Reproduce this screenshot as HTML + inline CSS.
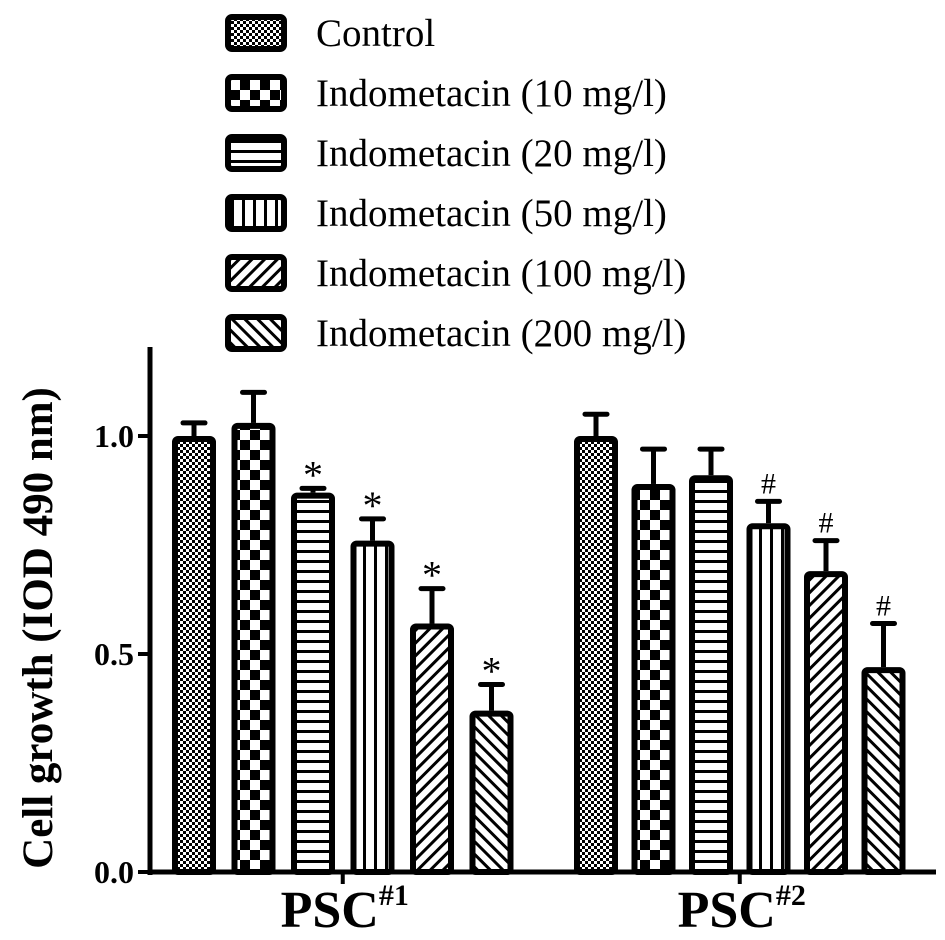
<!DOCTYPE html>
<html><head><meta charset="utf-8"><style>
html,body{margin:0;padding:0;background:#fff;}
svg{display:block;font-family:"Liberation Serif",serif;}
</style></head><body>
<svg id="chart" width="945" height="940" viewBox="0 0 945 940">
<defs>
<pattern id="p0" width="6" height="6" patternUnits="userSpaceOnUse"><rect width="6" height="6" fill="#fff"/><rect width="3" height="3" fill="#000"/><rect x="3" y="3" width="3" height="3" fill="#000"/></pattern>
<pattern id="p1" width="20" height="20" patternUnits="userSpaceOnUse"><rect width="20" height="20" fill="#fff"/><rect width="10" height="10" fill="#000"/><rect x="10" y="10" width="10" height="10" fill="#000"/></pattern>
<pattern id="p2" width="10" height="10" patternUnits="userSpaceOnUse"><rect width="10" height="10" fill="#fff"/><rect y="0" width="10" height="3" fill="#000"/></pattern>
<pattern id="p3" width="11" height="10" patternUnits="userSpaceOnUse"><rect width="11" height="10" fill="#fff"/><rect width="3" height="10" fill="#000"/></pattern>
<pattern id="p4" width="9" height="9" patternUnits="userSpaceOnUse" patternTransform="rotate(45)"><rect width="9" height="9" fill="#fff"/><rect width="3" height="9" fill="#000"/></pattern>
<pattern id="p5" width="9" height="9" patternUnits="userSpaceOnUse" patternTransform="rotate(-45)"><rect width="9" height="9" fill="#fff"/><rect width="3" height="9" fill="#000"/></pattern>
</defs>
<g id="legend"></g>
<g id="axes"></g>
<g id="bars"></g>
</svg>
<script>
const seriesNames = ["Control","Indometacin (10 mg/l)","Indometacin (20 mg/l)","Indometacin (50 mg/l)","Indometacin (100 mg/l)","Indometacin (200 mg/l)"];
const groups = ["PSC", "PSC"];
const groupSup = ["#1", "#2"];
const psc1Values = [1.0, 1.03, 0.87, 0.76, 0.57, 0.37];
const psc1Errors = [0.03, 0.07, 0.01, 0.05, 0.08, 0.06];
const psc1Marks = ["", "", "*", "*", "*", "*"];
const psc2Values = [1.0, 0.89, 0.91, 0.80, 0.69, 0.47];
const psc2Errors = [0.05, 0.08, 0.06, 0.05, 0.07, 0.10];
const psc2Marks = ["", "", "", "#", "#", "#"];
const yTicks = [0.0, 0.5, 1.0];

const NS = "http://www.w3.org/2000/svg";
function mk(tag, attrs, parent){const e=document.createElementNS(NS,tag);for(const k in attrs)e.setAttribute(k,attrs[k]);parent.appendChild(e);return e;}
const y0=872, yScale=436;
function yPos(v){return y0 - v*yScale;}
const groupStart=[172, 574], pitch=[59.5, 57.5], bw=44;
function xPos(g,i){return groupStart[g]+i*pitch[g];}

const axes=document.getElementById('axes');
const yl=mk('line',{x1:150,y1:347,x2:150,y2:875,stroke:'#000','stroke-width':5},axes);


const xl=mk('line',{x1:148,y1:872,x2:936,y2:872,stroke:'#000','stroke-width':5},axes);


yTicks.forEach(t=>{
  const tk=mk('line',{x1:138,y1:yPos(t),x2:150,y2:yPos(t),stroke:'#000','stroke-width':4},axes);
  
  
  const tl=mk('text',{x:134,y:yPos(t)+11,'text-anchor':'end','font-size':32,'font-weight':'bold'},axes);
  tl.textContent=t.toFixed(1);
  
  
});
const yt=mk('text',{x:0,y:0,'text-anchor':'middle','font-size':43,'font-weight':'bold',transform:'translate(52,628) rotate(-90)'},axes);
yt.textContent='Cell growth (IOD 490 nm)';



groups.forEach((g,gi)=>{
  const cx=(xPos(gi,0)+xPos(gi,5)+bw)/2;
  const tk=mk('line',{x1:cx,y1:872,x2:cx,y2:884,stroke:'#000','stroke-width':4},axes);
  
  
  const t=mk('text',{x:cx+2,y:927,'text-anchor':'middle','font-size':52,'font-weight':'bold'},axes);
  
  
  t.appendChild(document.createTextNode(g));
  const s=mk('tspan',{'font-size':30,dy:-22},t);
  s.textContent=groupSup[gi];
});

const bars=document.getElementById('bars');
const vals=[psc1Values,psc2Values], errs=[psc1Errors,psc2Errors], marks=[psc1Marks,psc2Marks];
vals.forEach((arr,gi)=>{
  arr.forEach((v,i)=>{
    const x=xPos(gi,i), top=yPos(v), cx=x+bw/2, et=yPos(v+errs[gi][i]);
    const el=mk('line',{x1:cx,y1:top,x2:cx,y2:et,stroke:'#000','stroke-width':5},bars);
    
    
    const cap=mk('line',{x1:cx-11,y1:et,x2:cx+11,y2:et,stroke:'#000','stroke-width':5,'stroke-linecap':'round'},bars);
    
    
    const r=mk('rect',{x:x+3,y:top+3,width:bw-6,height:y0-top-3,fill:'url(#p'+i+')',stroke:'#000','stroke-width':6,rx:3},bars);
    
    
    if(marks[gi][i]){
      const isStar=marks[gi][i]==='*';
      const m=mk('text',{x:cx,y:isStar?et:et-8,'text-anchor':'middle','font-size':isStar?40:30},bars);
      m.textContent=marks[gi][i];
      
      
    }
  });
});

const legend=document.getElementById('legend');
seriesNames.forEach((n,i)=>{
  const cy=33+i*60;
  const r=mk('rect',{x:228,y:cy-16,width:56,height:32,fill:'url(#p'+i+')',stroke:'#000','stroke-width':6,rx:4},legend);
  
  
  const t=mk('text',{x:316,y:cy+13,'font-size':39},legend);
  t.textContent=n;
  
  
});
</script>
</body></html>
